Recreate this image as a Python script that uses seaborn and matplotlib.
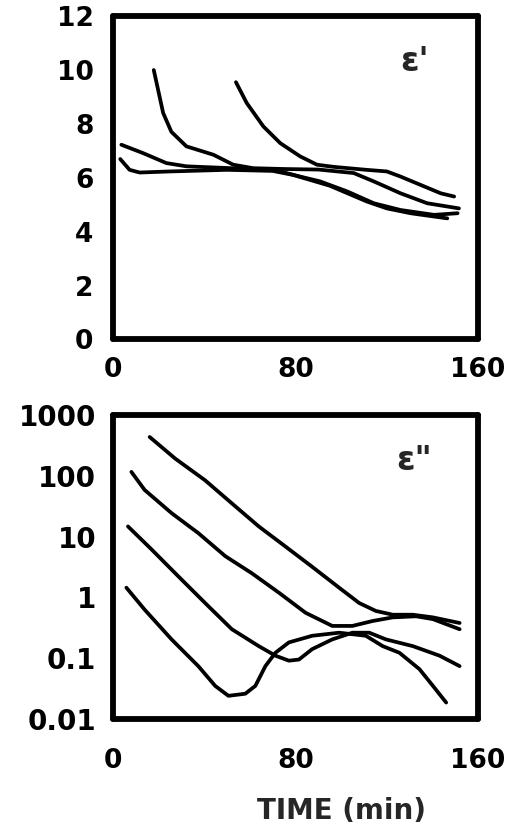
import numpy as np
import pandas as pd
import matplotlib
matplotlib.use("Agg")
import matplotlib.pyplot as plt
import seaborn as sns

# ---- Top panel: epsilon' vs time ----
t_a = [17.9, 22.0, 25.6, 32.2, 44.0, 52.7, 61.5, 75.0, 90.0, 105.5, 114.3, 126.0, 137.7, 151.6]
e1_a = [9.99, 8.4, 7.7, 7.16, 6.85, 6.48, 6.35, 6.32, 6.30, 6.17, 5.86, 5.42, 5.05, 4.86]

t_b = [53.9, 58.6, 65.9, 73.3, 82.0, 89.4, 96.7, 111.0, 120.0, 126.0, 134.8, 143.6, 149.5]
e1_b = [9.54, 8.77, 7.9, 7.28, 6.79, 6.48, 6.40, 6.29, 6.23, 6.04, 5.73, 5.42, 5.30]

t_c = [3.7, 13.2, 23.4, 32.2, 52.0, 70.0, 82.0, 90.8, 102.6, 114.3, 126.0, 140.7, 151.0]
e1_c = [7.22, 6.91, 6.54, 6.42, 6.35, 6.30, 6.04, 5.86, 5.49, 5.05, 4.80, 4.62, 4.68]

t_d = [3.2, 7.3, 11.7, 25.0, 50.0, 70.0, 79.0, 95.0, 111.4, 120.0, 130.4, 146.5]
e1_d = [6.69, 6.29, 6.19, 6.23, 6.29, 6.25, 6.10, 5.70, 5.11, 4.86, 4.68, 4.49]

# ---- Bottom panel: epsilon'' vs time (log scale) ----
t_1 = [16.1, 27.2, 40.4, 52.1, 63.9, 75.6, 87.3, 99.1, 107.9, 115.2, 122.6, 131.4, 140.2, 151.9]
e2_1 = [440, 195, 85, 35.5, 14.8, 6.9, 3.2, 1.45, 0.81, 0.60, 0.52, 0.52, 0.47, 0.38]

t_2 = [8.1, 13.9, 25.7, 37.4, 49.2, 60.9, 72.7, 84.4, 96.1, 104.9, 113.8, 122.6, 132.8, 140.2, 151.9]
e2_2 = [117, 59, 24.5, 11.5, 4.8, 2.5, 1.2, 0.56, 0.34, 0.34, 0.41, 0.47, 0.49, 0.44, 0.30]

t_3 = [6.6, 16.9, 28.6, 40.4, 52.1, 63.9, 71.2, 77.1, 81.5, 87.3, 96.1, 104.9, 112.3, 119.6, 131.4, 143.1, 151.9]
e2_3 = [14.8, 6.2, 2.24, 0.81, 0.30, 0.158, 0.110, 0.091, 0.095, 0.141, 0.204, 0.263, 0.263, 0.204, 0.158, 0.110, 0.074]

t_4 = [5.9, 13.9, 25.7, 37.4, 44.8, 50.6, 58.0, 62.4, 66.8, 71.2, 77.1, 87.3, 99.1, 110.8, 118.2, 125.5, 134.3, 140.2, 146.0]
e2_4 = [1.45, 0.63, 0.204, 0.074, 0.035, 0.024, 0.026, 0.035, 0.074, 0.123, 0.182, 0.234, 0.263, 0.234, 0.158, 0.123, 0.066, 0.035, 0.0186]

x_ticks = [0, 80, 160]
x_tick_labels = ["0", "80", "160"]
y1_ticks = [0, 2, 4, 6, 8, 10, 12]
y1_tick_labels = ["0", "2", "4", "6", "8", "10", "12"]
y2_ticks = [0.01, 0.1, 1, 10, 100, 1000]
y2_tick_labels = ["0.01", "0.1", "1", "10", "100", "1000"]
x_label = "TIME (min)"
label_top = "ε'"
label_bottom = 'ε"'

sns.set_style("white")
plt.rcParams["font.family"] = ["DejaVu Sans"]
plt.rcParams["font.weight"] = "bold"

fig = plt.figure(figsize=(5.18, 8.34), dpi=100)
ax1 = fig.add_axes([0.218, 0.593, 0.705, 0.388])
ax2 = fig.add_axes([0.218, 0.138, 0.705, 0.364])

lw = 2.7
for tx, ty in [(t_a, e1_a), (t_b, e1_b), (t_c, e1_c), (t_d, e1_d)]:
    df = pd.DataFrame({"t": tx, "v": ty})
    sns.lineplot(data=df, x="t", y="v", ax=ax1, color="black", lw=lw,
                 sort=False, estimator=None, solid_capstyle="round", solid_joinstyle="round")

for tx, ty in [(t_1, e2_1), (t_2, e2_2), (t_3, e2_3), (t_4, e2_4)]:
    df = pd.DataFrame({"t": tx, "v": ty})
    sns.lineplot(data=df, x="t", y="v", ax=ax2, color="black", lw=lw,
                 sort=False, estimator=None, solid_capstyle="round", solid_joinstyle="round")

ax1.set_xlim(0, 160)
ax1.set_ylim(0, 12)
ax1.set_xticks(x_ticks)
ax1.set_xticklabels(x_tick_labels)
ax1.set_yticks(y1_ticks)
ax1.set_yticklabels(y1_tick_labels)

ax2.set_yscale("log")
ax2.set_xlim(0, 160)
ax2.set_ylim(0.01, 1000)
ax2.set_xticks(x_ticks)
ax2.set_xticklabels(x_tick_labels)
ax2.set_yticks(y2_ticks)
ax2.set_yticklabels(y2_tick_labels)
ax2.minorticks_off()

for ax in (ax1, ax2):
    ax.set_xlabel("")
    ax.set_ylabel("")
    for s in ax.spines.values():
        s.set_visible(True)
        s.set_linewidth(4.2)
        s.set_color("black")
        s.set_capstyle("round")
    ax.tick_params(axis="both", length=0, labelsize=19, colors="black")
    ax.tick_params(axis="y", pad=14)
    for lab in ax.get_xticklabels() + ax.get_yticklabels():
        lab.set_fontweight("bold")
    ax.grid(False)

ax1.tick_params(axis="x", pad=13)
ax2.tick_params(axis="x", pad=21)
ax2.tick_params(axis="y", labelsize=20, pad=12)

ax1.text(132, 10.3, label_top, fontsize=24, fontweight="bold", ha="center", va="center")
ax2.text(132, 180, label_bottom, fontsize=24, fontweight="bold", ha="center", va="center")

fig.text(0.66, 0.027, x_label, fontsize=20, fontweight="bold", ha="center", va="center")

fig.savefig("out.png", dpi=100, facecolor="white")
